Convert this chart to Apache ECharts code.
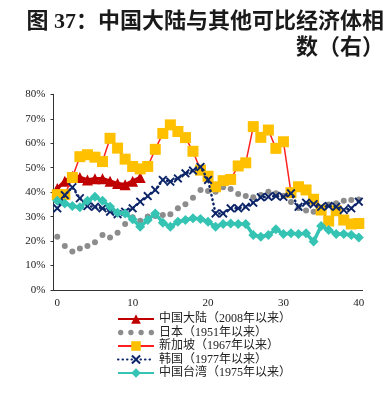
<!DOCTYPE html>
<html>
<head>
<meta charset="utf-8">
<script src="https://cdn.jsdelivr.net/npm/echarts@6/dist/echarts.min.js"></script>
<style>html,body{margin:0;padding:0;background:#fff;}#c{width:384px;height:406px;}</style>
</head>
<body>
<div id="c"></div>
<script>
const categories = Array.from({length: 41}, (_, i) => String(i));
const yTicks = [0, 10, 20, 30, 40, 50, 60, 70, 80];
const titleLines = ['图 37：中国大陆与其他可比经济体相', '数（右）'];
const seriesNames = ['中国大陆（2008年以来）', '日本（1951年以来）', '新加坡（1967年以来）', '韩国（1977年以来）', '中国台湾（1975年以来）'];

const china = [41.5, 44.5, 46.5, 46, 45, 45.5, 45.5, 44.5, 43.5, 43, 44.5, 46];
const japan = [21.8, 18, 15.7, 17, 18, 19.5, 22.5, 21.5, 23.4, 27, 29.7, 28.3, 30, 30.2, 30.7, 31, 33.4, 35.1, 37.7, 40.9,
  40.5, 40.2, 42, 41.3, 39.2, 38.4, 37.9, 38.8, 40.2, 39.5, 38.5, 36, 33.5, 32.5, 32, 33, 35, 35.5, 36.5, 36.8, 37];
const singapore = [39, 39, 46, 54.5, 55.3, 54.3, 52.5, 62, 58, 53.5, 50.5, 49.5, 50.5, 57.5, 64, 67.5, 64.8, 62.3, 56.7, 49,
  46.5, 42.2, 44.7, 45.2, 50.7, 52, 66.8, 62.4, 65.4, 57.9, 60.6, 39.8, 42.2, 40.9, 37.1, 32.7, 28.2, 32.4, 28.6, 27, 27.2];
const korea = [33.4, 38.8, 42, 37.5, 34.3, 34, 33.4, 32, 31, 32, 33.4, 36.1, 38.4, 40.9, 45, 44.3, 45.6, 47.7, 48.8, 50.3,
  45, 31.3, 31.3, 33.4, 33.4, 34, 35.7, 37.9, 38.1, 38.4, 38.1, 39.5, 34, 35.7, 35.1, 34, 34.3, 34, 32.7, 33.4, 36.1];
const taiwan = [36.5, 35.4, 34.3, 33.8, 36.5, 38.1, 36.5, 34, 31.6, 31.3, 28.9, 25.9, 28.6, 31.3, 27.5, 25.9, 27.9, 28.6, 29.3, 29,
  27.9, 25.9, 27, 27.2, 27, 27, 22.5, 21.8, 22.5, 24.8, 22.9, 23.2, 22.9, 23.2, 19.8, 26.2, 24.5, 22.9, 22.9, 22.5, 21.5];

const serif = "'Liberation Serif', 'Times New Roman', 'Noto Sans CJK SC', serif";
const xSymbol = 'path://M0,1.5 L1.5,0 L5,3.5 L8.5,0 L10,1.5 L6.5,5 L10,8.5 L8.5,10 L5,6.5 L1.5,10 L0,8.5 L3.5,5 Z';
const dotsIcon = 'path://M0,2.5a2.5,2.5 0 1,0 5,0a2.5,2.5 0 1,0 -5,0Z M9.5,2.5a2.5,2.5 0 1,0 5,0a2.5,2.5 0 1,0 -5,0Z M19,2.5a2.5,2.5 0 1,0 5,0a2.5,2.5 0 1,0 -5,0Z M28.5,2.5a2.5,2.5 0 1,0 5,0a2.5,2.5 0 1,0 -5,0Z';

const chart = echarts.init(document.getElementById('c'), null, {renderer: 'canvas'});
chart.setOption({
  animation: false,
  backgroundColor: '#fff',
  graphic: titleLines.map((t, i) => ({
    type: 'text', right: 0, top: 11 + i * 26,
    style: {text: t, font: "bold 22px " + serif, fill: '#1a1a1a', textAlign: 'right'}
  })),
  grid: {left: 53.5, right: 21.4, top: 94.3, bottom: 116},
  legend: {
    orient: 'vertical', left: 112, top: 308,
    itemWidth: 36, itemHeight: 12, itemGap: 1.5,
    textStyle: {fontFamily: serif, fontSize: 12, color: '#222'},
    data: [
      {name: seriesNames[0]},
      {name: seriesNames[1], icon: dotsIcon},
      {name: seriesNames[2]},
      {name: seriesNames[3]},
      {name: seriesNames[4]}
    ]
  },
  xAxis: [{
    type: 'category', data: categories, boundaryGap: true, position: 'bottom',
    axisLine: {lineStyle: {color: '#333', width: 1}},
    axisTick: {interval: 9, length: 4, lineStyle: {color: '#333'}},
    axisLabel: {interval: 9, fontFamily: serif, fontSize: 11, color: '#222', margin: 8},
    splitLine: {show: false}
  }, {
    type: 'category', data: categories, boundaryGap: true, position: 'bottom',
    axisLine: {show: false},
    axisTick: {interval: 9, length: 4, inside: true, lineStyle: {color: '#333'}},
    axisLabel: {show: false},
    splitLine: {show: false}
  }],
  yAxis: {
    type: 'value', min: yTicks[0], max: yTicks[yTicks.length - 1], interval: 10,
    axisLine: {show: true, lineStyle: {color: '#333', width: 1}},
    axisTick: {show: true, length: 3, lineStyle: {color: '#333'}},
    axisLabel: {formatter: '{value}%', fontFamily: serif, fontSize: 11, color: '#222', margin: 8},
    splitLine: {show: false}
  },
  series: [
    {
      name: seriesNames[1], type: 'line', data: japan,
      symbol: 'circle', symbolSize: 6, showSymbol: true, showAllSymbol: true,
      itemStyle: {color: '#8c8c8c'},
      lineStyle: {opacity: 0, width: 0},
      z: 2
    },
    {
      name: seriesNames[0], type: 'line', data: china,
      symbol: 'triangle', symbolSize: 11, showAllSymbol: true,
      itemStyle: {color: '#c00000'},
      lineStyle: {color: '#c00000', width: 3.5},
      z: 3
    },
    {
      name: seriesNames[2], type: 'line', data: singapore,
      symbol: 'rect', symbolSize: 11, showAllSymbol: true,
      itemStyle: {color: '#ffc000'},
      lineStyle: {color: '#ff2020', width: 1.5},
      z: 4
    },
    {
      name: seriesNames[3], type: 'line', data: korea,
      symbol: xSymbol, symbolSize: 9, showAllSymbol: true,
      itemStyle: {color: '#0c2468'},
      lineStyle: {color: '#0c2468', width: 2.5, type: [0.5, 4], cap: 'round'},
      z: 5
    },
    {
      name: seriesNames[4], type: 'line', data: taiwan,
      symbol: 'diamond', symbolSize: 10, showAllSymbol: true,
      itemStyle: {color: '#35c3b3'},
      lineStyle: {color: '#35c3b3', width: 3.5},
      z: 6
    }
  ]
});
</script>
</body>
</html>
